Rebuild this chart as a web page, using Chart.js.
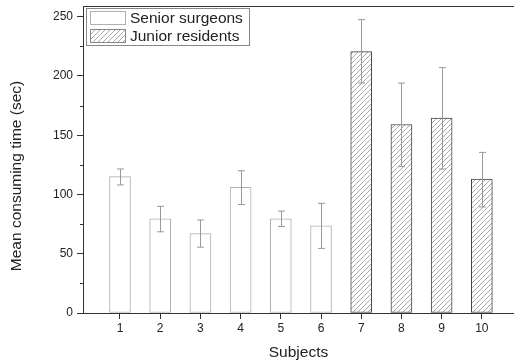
<!DOCTYPE html>
<html>
<head>
<meta charset="utf-8">
<script src="https://cdn.jsdelivr.net/npm/chart.js@4/dist/chart.umd.min.js"></script>
<style>
  html, body { margin: 0; padding: 0; background: #fff; overflow: hidden; }
  #wrap { width: 514px; height: 364px; }
</style>
</head>
<body>
<div id="wrap"><canvas id="myChart" width="514" height="364"></canvas></div>
<script>
// data
const seniorSubjects = [1, 2, 3, 4, 5, 6];
const seniorMeans = [115, 79.5, 67, 106, 79.5, 73.5];
const seniorLow = [108, 68.5, 55.5, 91.5, 73, 54.5];
const seniorHigh = [121.5, 90, 78.5, 120, 86, 92.5];

const juniorSubjects = [7, 8, 9, 10];
const juniorMeans = [220.5, 159, 164.5, 113];
const juniorLow = [194, 123.5, 121.5, 89.5];
const juniorHigh = [247.5, 194, 207, 135.5];

const xTicks = [1, 2, 3, 4, 5, 6, 7, 8, 9, 10];
const yTicks = [0, 50, 100, 150, 200, 250];
const yMinorTicks = [25, 75, 125, 175, 225];

const labelFont = "'Liberation Sans', Arial, sans-serif";
const yTitle = "Mean consuming time (sec)";

function makeHatch() {
  let c = document.createElement("canvas");
  c.width = 5;
  c.height = 5;
  let g = c.getContext("2d");
  g.fillStyle = "#fff";
  g.fillRect(0, 0, 5, 5);
  g.strokeStyle = "#a8a8a8";
  g.lineWidth = 1;
  g.beginPath();
  g.moveTo(-1, 6); g.lineTo(6, -1);
  g.moveTo(-1, 1); g.lineTo(1, -1);
  g.moveTo(4, 6); g.lineTo(6, 4);
  g.stroke();
  return g.createPattern(c, "repeat");
}

const ctx = document.getElementById("myChart").getContext("2d");
const hatch = makeHatch();

const errorBars = {
  id: "errorBars",
  afterDatasetsDraw(chart) {
    const y = chart.scales.y;
    const g = chart.ctx;
    const sets = [[seniorLow, seniorHigh], [juniorLow, juniorHigh]];
    g.save();
    g.strokeStyle = "#999";
    g.lineWidth = 1;
    sets.forEach((s, di) => {
      chart.getDatasetMeta(di).data.forEach((bar, i) => {
        const x = Math.round(bar.x) + 0.5;
        const yl = y.getPixelForValue(s[0][i]);
        const yh = y.getPixelForValue(s[1][i]);
        g.beginPath();
        g.moveTo(x, yl); g.lineTo(x, yh);
        g.moveTo(x - 3.5, yl); g.lineTo(x + 3.5, yl);
        g.moveTo(x - 3.5, yh); g.lineTo(x + 3.5, yh);
        g.stroke();
      });
    });
    g.restore();
  }
};

const frame = {
  id: "frame",
  afterDraw(chart) {
    const g = chart.ctx;
    const a = chart.chartArea;
    const y = chart.scales.y;
    g.save();
    // top border
    g.strokeStyle = "#333";
    g.lineWidth = 1;
    g.beginPath();
    g.moveTo(a.left, a.top + 0.5);
    g.lineTo(chart.width, a.top + 0.5);
    g.stroke();
    // minor ticks
    g.beginPath();
    yMinorTicks.forEach((v) => {
      const py = Math.round(y.getPixelForValue(v)) + 0.5;
      g.moveTo(a.left - 3, py);
      g.lineTo(a.left, py);
    });
    g.stroke();

    // y title, sits a bit below the plot middle like the original
    g.fillStyle = "#222";
    g.font = "15.5px " + labelFont;
    g.textAlign = "center";
    g.textBaseline = "middle";
    g.translate(17, 176);
    g.rotate(-Math.PI / 2);
    g.fillText(yTitle, 0, 0);
    g.setTransform(1, 0, 0, 1, 0, 0);

    // legend
    g.strokeStyle = "#888";
    g.strokeRect(86.5, 8.5, 163, 37);
    g.fillStyle = "#fff";
    g.fillRect(90.5, 11.5, 35, 13);
    g.strokeStyle = "#b0b0b0";
    g.strokeRect(90.5, 11.5, 35, 13);
    g.fillStyle = hatch;
    g.fillRect(90.5, 29.5, 35, 13);
    g.strokeStyle = "#888";
    g.strokeRect(90.5, 29.5, 35, 13);
    g.fillStyle = "#222";
    g.textAlign = "left";
    g.fillText(chart.data.datasets[0].label, 130, 18.5);
    g.fillText(chart.data.datasets[1].label, 130, 36.5);
    g.restore();
  }
};

new Chart(ctx, {
  type: "bar",
  data: {
    datasets: [
      {
        label: "Senior surgeons",
        data: seniorSubjects.map((s, i) => ({ x: s, y: seniorMeans[i] })),
        backgroundColor: "#fff",
        borderColor: "#b0b0b0",
        borderWidth: 1,
        borderSkipped: false,
      },
      {
        label: "Junior residents",
        data: juniorSubjects.map((s, i) => ({ x: s, y: juniorMeans[i] })),
        backgroundColor: hatch,
        borderColor: "#444",
        borderWidth: 1,
        borderSkipped: false,
      },
    ],
  },
  options: {
    responsive: false,
    animation: false,
    events: [],
    grouped: false,
    barThickness: 21,
    layout: { padding: { top: 6, right: 0, left: 0, bottom: 0 } },
    plugins: { legend: { display: false }, tooltip: { enabled: false } },
    scales: {
      x: {
        type: "linear",
        offset: false,
        min: 0.08,
        max: 10.8,
        afterBuildTicks: (s) => { s.ticks = xTicks.map((v) => ({ value: v })); },
        afterFit: (s) => { s.height = 51; s.paddingLeft = 0; s.paddingRight = 0; },
        grid: { offset: false, drawOnChartArea: false, drawTicks: true, tickLength: 6, color: "#333" },
        border: { display: true, color: "#333", width: 1 },
        ticks: { color: "#222", font: { family: labelFont, size: 12 }, padding: 2, maxRotation: 0 },
        title: {
          display: true,
          text: "Subjects",
          color: "#222",
          font: { family: labelFont, size: 15.5 },
          padding: { top: 0, bottom: 2 },
        },
      },
      y: {
        min: 0,
        max: 259,
        afterBuildTicks: (s) => { s.ticks = yTicks.map((v) => ({ value: v })); },
        afterFit: (s) => { s.width = 83; s.paddingTop = 0; s.paddingBottom = 0; },
        grid: { drawOnChartArea: false, drawTicks: true, tickLength: 6, color: "#333" },
        border: { display: true, color: "#333", width: 1 },
        ticks: { color: "#222", font: { family: labelFont, size: 12 }, padding: 4 },
        title: { display: false },
      },
    },
  },
  plugins: [errorBars, frame],
});
</script>
</body>
</html>
